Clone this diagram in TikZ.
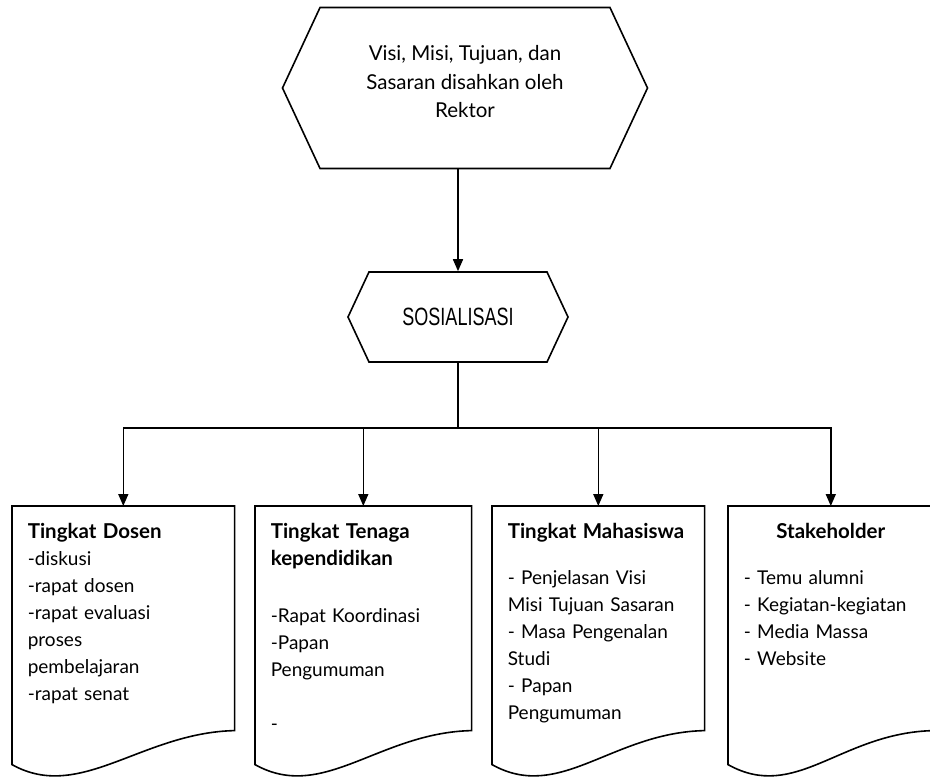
\documentclass[tikz,border=0pt]{standalone}
\usepackage{fontspec}
\setmainfont{Lato}
\newfontfamily\sosfont[FakeStretch=0.72]{Liberation Sans}
\usetikzlibrary{arrows.meta,shapes.symbols}

\newcommand{\hd}[1]{{\fontsize{20.5}{27}\selectfont\bfseries #1}}

\begin{document}
\begin{tikzpicture}[x=1pt,y=-1pt,line width=1.6pt,
    hexa/.style={draw,shape=signal,signal to=west and east,signal pointer angle=130,
        inner sep=0pt,align=center},
    docbox/.style={anchor=north west,inner xsep=15pt,inner ysep=0pt,text width=#1,
        text height=32pt,text depth=191pt,align=left,font=\fontsize{19}{27}\selectfont,
        append after command={\pgfextra{\draw (\tikzlastnode.north west)
            -- ([yshift=-34pt]\tikzlastnode.south west)
            .. controls ([xshift=68pt,yshift=-72pt]\tikzlastnode.south west)
            and ([xshift=-93pt,yshift=-2pt]\tikzlastnode.south east) .. (\tikzlastnode.south east)
            -- (\tikzlastnode.north east) -- cycle;}}},
    arr/.style={-{Triangle[length=12pt,width=10pt]}}]
    \useasboundingbox (0,0) rectangle (930,778);

    % top: decision by the rector
    \node[hexa,minimum width=365pt,minimum height=161pt,font=\fontsize{20.5}{28.5}\selectfont]
        (vmts) at (465,88) {Visi, Misi, Tujuan, dan\\Sasaran disahkan oleh\\Rektor\\[-16pt]\mbox{}};
    \node[hexa,minimum width=220pt,minimum height=90pt,font=\sosfont\fontsize{25}{28}\selectfont]
        (sos) at (458,317) {SOSIALISASI};
    \draw[arr] (vmts.south -| sos.north) -- (sos.north);

    % four levels
    \node[docbox=191pt] (dosen) at (12,506) {\hd{Tingkat Dosen}\\
        -diskusi\\-rapat dosen\\-rapat evaluasi\\proses\\pembelajaran\\-rapat senat};
    \node[docbox=185pt] (tendik) at (255,506) {\hd{Tingkat Tenaga}\\\hd{kependidikan}\\[30pt]
        -Rapat Koordinasi\\-Papan\\Pengumuman\\[27pt]-};
    \node[docbox=181pt] (mhs) at (492,506) {\hd{Tingkat Mahasiswa}\\[19pt]
        - Penjelasan Visi\\Misi Tujuan Sasaran\\- Masa Pengenalan\\Studi\\- Papan\\Pengumuman};
    \node[docbox=174pt] (stake) at (728,506) {\makebox[\linewidth]{\hd{Stakeholder}}\\[19pt]
        - Temu alumni\\- Kegiatan-kegiatan\\- Media Massa\\- Website};

    \coordinate (split) at (458,428);
    \draw (sos.south) -- (split);
    \draw[arr] (split) -| (dosen.north);
    \draw[arr] (split) -| (tendik.north);
    \draw[arr] (split) -| (mhs.north);
    \draw[arr] (split) -| (stake.north);
\end{tikzpicture}
\end{document}
